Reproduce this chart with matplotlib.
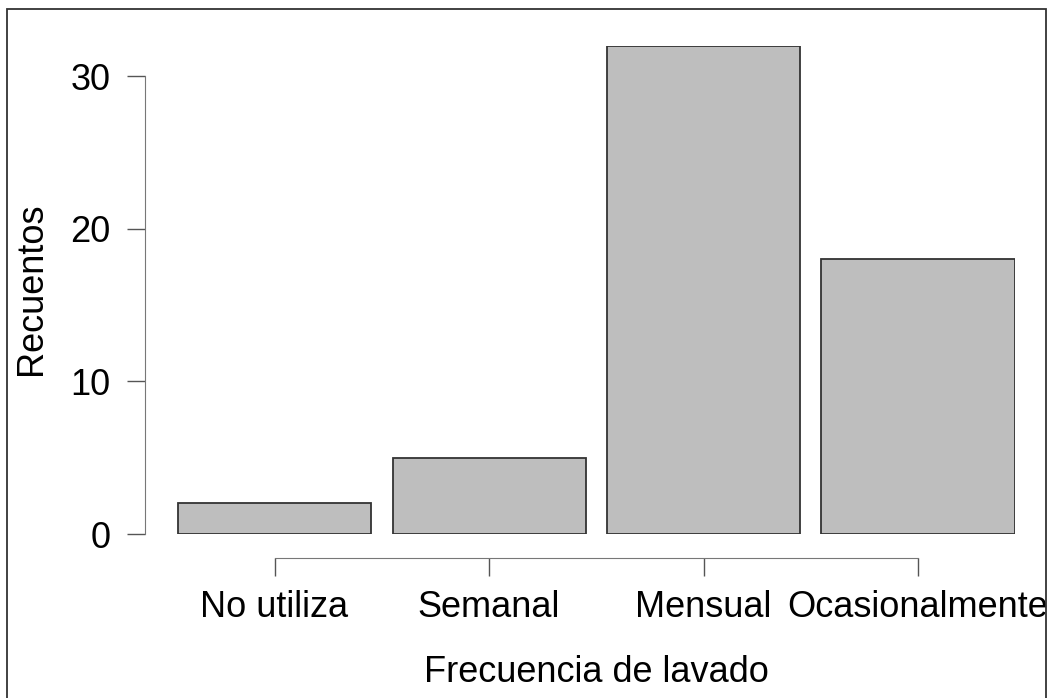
import matplotlib.pyplot as plt
from matplotlib.patches import Rectangle

plt.rcParams['font.family'] = ['Liberation Sans', 'DejaVu Sans']

# Data
categorias = ['No utiliza', 'Semanal', 'Mensual', 'Ocasionalmente']
recuentos = [2, 5, 32, 18]
yticks = [0, 10, 20, 30]

W, H = 1050, 698
fs = 26
fig = plt.figure(figsize=(W / 100, H / 100), dpi=100)

# axes box in pixels: left 145, right 1014.5, top 45.7, bottom 534
left, right, top, bottom = 145, 1014.5, 45.7, 534
ax = fig.add_axes([left / W, 1 - bottom / H, (right - left) / W, (bottom - top) / H])

x = range(len(categorias))
ax.bar(x, recuentos, width=0.9, color='#bebebe', edgecolor='#333333', linewidth=1.3)

ax.set_xlim(-0.604, 3.45)
ax.set_ylim(0, 32)

for s in ['top', 'right']:
    ax.spines[s].set_visible(False)
ax.spines['left'].set_bounds(0, 30)
ax.spines['bottom'].set_position(('outward', 24 * 0.72))
ax.spines['bottom'].set_bounds(0, 3)
ax.spines['left'].set_color('#777777')
ax.spines['bottom'].set_color('#777777')

ax.set_yticks(yticks)
ax.set_xticks(list(x))
ax.set_xticklabels(categorias)
ax.tick_params(axis='both', labelsize=fs, length=13, width=1, color='#555555')
ax.tick_params(axis='y', pad=12)
ax.tick_params(axis='x', pad=10)

fig.text(596 / W, 1 - 672 / H, 'Frecuencia de lavado', fontsize=fs,
         ha='center', va='center')
fig.text(32 / W, 1 - 289 / H, 'Recuentos', fontsize=fs, rotation=90,
         ha='center', va='center')

# outer frame
fig.patches.append(Rectangle((7 / W, -0.05), (1046 - 7) / W, 1.05 - 9.5 / H,
                             transform=fig.transFigure, fill=False,
                             edgecolor='#333333', linewidth=1.3))

fig.savefig('out.png', dpi=100)
